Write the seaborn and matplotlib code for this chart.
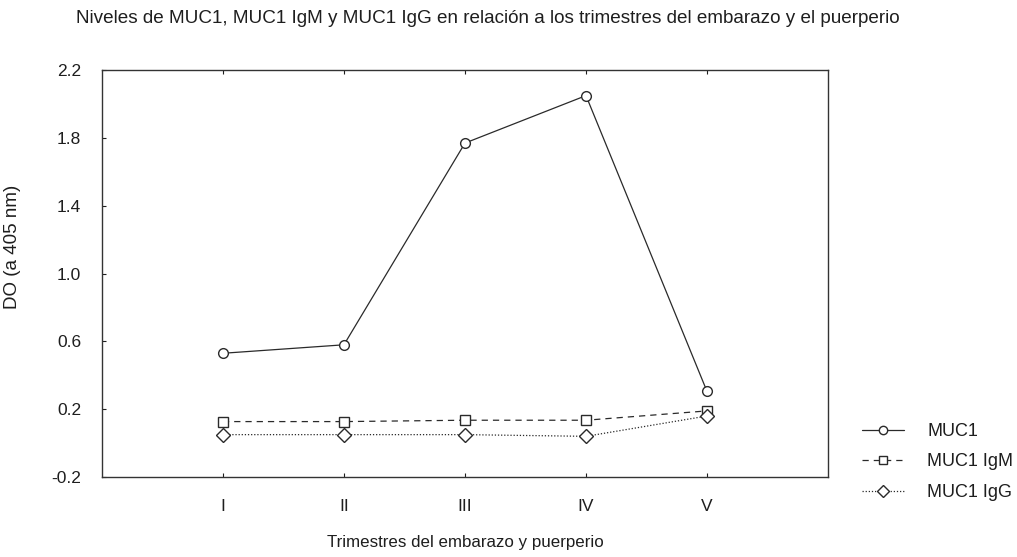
import matplotlib
matplotlib.use("Agg")
import matplotlib.pyplot as plt
import seaborn as sns
import pandas as pd

# Category labels (trimesters of pregnancy and postpartum)
trimestres = ["I", "II", "III", "IV", "V"]

# Optical density at 405 nm per series
muc1 = [0.53, 0.58, 1.77, 2.05, 0.305]
muc1_igm = [0.127, 0.127, 0.135, 0.135, 0.19]
muc1_igg = [0.05, 0.05, 0.05, 0.04, 0.16]

series_names = ["MUC1", "MUC1 IgM", "MUC1 IgG"]
y_ticks = [-0.2, 0.2, 0.6, 1.0, 1.4, 1.8, 2.2]

frames = []
for name, vals in zip(series_names, [muc1, muc1_igm, muc1_igg]):
    frames.append(pd.DataFrame({
        "pos": range(1, len(trimestres) + 1),
        "valor": vals,
        "serie": name,
    }))
df = pd.concat(frames, ignore_index=True)

sns.set_theme(style="white")
plt.rcParams["font.family"] = ["Liberation Sans", "DejaVu Sans"]

fig = plt.figure(figsize=(10.17, 5.57), dpi=100)
ax = fig.add_axes([0.1002, 0.1436, 0.7140, 0.7304])

line_color = "#2a2a2a"
text_color = "#1e1e1e"
sns.lineplot(
    data=df, x="pos", y="valor", hue="serie", style="serie",
    palette={n: line_color for n in series_names},
    markers={"MUC1": "o", "MUC1 IgM": "s", "MUC1 IgG": "D"},
    dashes={"MUC1": "", "MUC1 IgM": (5, 4), "MUC1 IgG": (1, 1.5)},
    markersize=7, markerfacecolor="white", markeredgecolor=line_color,
    markeredgewidth=1.0, linewidth=0.9, ax=ax, legend="full",
)

ax.set_xlim(0, 6)
ax.set_ylim(-0.2, 2.2)
ax.set_xticks(range(1, len(trimestres) + 1))
ax.set_xticklabels(trimestres)
ax.set_yticks(y_ticks)
ax.set_yticklabels([f"{t:.1f}" for t in y_ticks])
ax.tick_params(axis="both", direction="in", length=3, width=0.8,
               labelsize=12.5, colors=text_color)
ax.tick_params(axis="y", pad=15)
ax.tick_params(axis="x", pad=16)
ax.tick_params(top=True, right=False, bottom=True, left=True)
for sp in ax.spines.values():
    sp.set_color("#333333")
    sp.set_linewidth(1.0)

ax.set_xlabel("Trimestres del embarazo y puerperio", fontsize=12.2,
              color=text_color, labelpad=15)
ax.set_ylabel("DO (a 405 nm)", fontsize=13.5, color=text_color)
ax.yaxis.set_label_coords(-0.111, 0.565)

fig.text(0.075, 0.966,
         "Niveles de MUC1, MUC1 IgM y MUC1 IgG en relación a los trimestres del embarazo y el puerperio",
         fontsize=13.6, color=text_color, ha="left", va="center")

handles, labels = ax.get_legend_handles_labels()
for h in handles:
    h.set_markersize(6)
ax.legend(handles, labels, loc="center left", bbox_to_anchor=(1.025, 0.037),
          frameon=False, fontsize=13, handlelength=2.3, labelspacing=0.75,
          handletextpad=1.3, labelcolor=text_color)

fig.savefig("out.png", dpi=100, facecolor="white")
